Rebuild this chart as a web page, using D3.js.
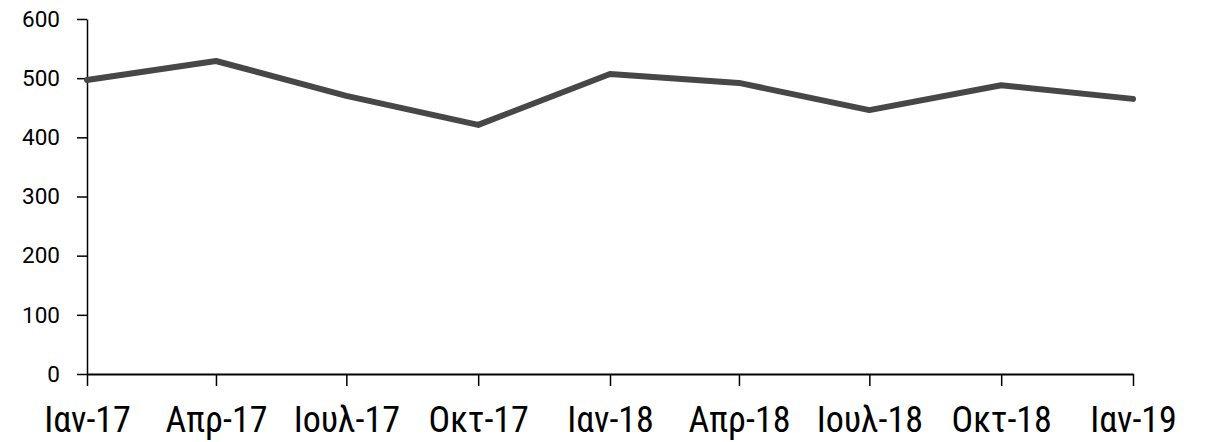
<!DOCTYPE html>
<html>
<head>
<meta charset="utf-8">
<script src="https://cdn.jsdelivr.net/npm/d3@7"></script>
<style>
  body { margin: 0; background: #fff; }
  text { fill: #000; }
  .y-axis text { font-family: "Roboto", sans-serif; }
  .x-axis text { font-family: "Roboto Condensed", "Roboto", sans-serif; }
</style>
</head>
<body>
<div class="chart"></div>
<script>
// quarterly data points
var dates = ["2017-01-01", "2017-04-01", "2017-07-01", "2017-10-01", "2018-01-01",
             "2018-04-01", "2018-07-01", "2018-10-01", "2019-01-01"];
var values = [497, 529, 470, 421, 507, 492, 446, 488, 465];
var tickLabels = ["Ιαν-17", "Απρ-17", "Ιουλ-17", "Οκτ-17", "Ιαν-18",
                  "Απρ-18", "Ιουλ-18", "Οκτ-18", "Ιαν-19"];
var yTicks = [0, 100, 200, 300, 400, 500, 600];

var svgWidth = 1207;
var svgHeight = 442;

var margin = { top: 19, right: 74, bottom: 68, left: 87 };
var width = svgWidth - margin.left - margin.right;
var height = svgHeight - margin.top - margin.bottom;

var parseDate = d3.timeParse("%Y-%m-%d");
var data = dates.map(function(d, i) {
  return { date: parseDate(d), value: values[i] };
});

var svg = d3.select(".chart")
  .append("svg")
  .attr("width", svgWidth)
  .attr("height", svgHeight);

var chartGroup = svg.append("g")
  .attr("transform", `translate(${margin.left}, ${margin.top})`);

// scales
var xTimeScale = d3.scaleTime()
  .domain(d3.extent(data, d => d.date))
  .range([0, width]);

var yLinearScale = d3.scaleLinear()
  .domain([0, 600])
  .range([height, 0]);

// axes
var xAxis = d3.axisBottom(xTimeScale)
  .tickValues(data.map(d => d.date))
  .tickSizeInner(12)
  .tickSizeOuter(0)
  .tickPadding(20)
  .tickFormat((d, i) => tickLabels[i]);

var yAxis = d3.axisLeft(yLinearScale)
  .tickValues(yTicks)
  .tickSizeInner(10)
  .tickSizeOuter(0)
  .tickPadding(17);

var yG = chartGroup.append("g").attr("class", "y-axis").call(yAxis);
yG.attr("font-family", null);
yG.select(".domain").attr("stroke", "#000").attr("stroke-width", 1.5);
yG.selectAll(".tick line").attr("stroke", "#000").attr("stroke-width", 1.5);
yG.selectAll(".tick text").attr("font-size", 22.5).attr("fill", "#000");

var xG = chartGroup.append("g")
  .attr("class", "x-axis")
  .attr("transform", `translate(0, ${height})`)
  .call(xAxis);
xG.attr("font-family", null);
xG.select(".domain").attr("stroke", "#000").attr("stroke-width", 2);
xG.selectAll(".tick line").attr("stroke", "#000").attr("stroke-width", 1.5);
xG.selectAll(".tick text").attr("font-size", 36).attr("fill", "#000");

// line
var line = d3.line()
  .x(d => xTimeScale(d.date))
  .y(d => yLinearScale(d.value));

chartGroup.append("path")
  .data([data])
  .attr("d", line)
  .attr("fill", "none")
  .attr("stroke", "#474747")
  .attr("stroke-width", 6)
  .attr("stroke-linejoin", "round")
  .attr("stroke-linecap", "round");
</script>
</body>
</html>
